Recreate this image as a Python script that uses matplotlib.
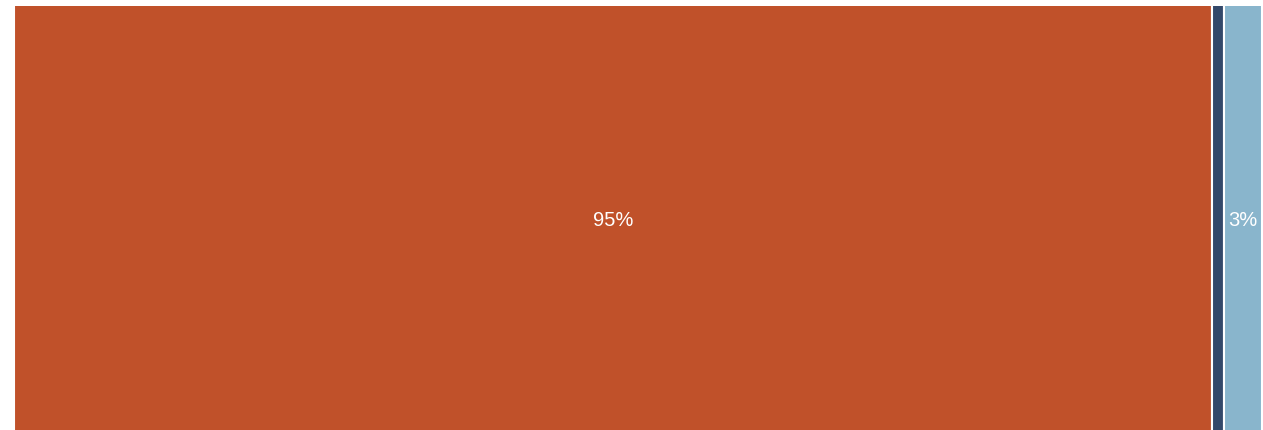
import matplotlib.pyplot as plt

plt.rcParams['font.family'] = ['Liberation Sans', 'DejaVu Sans']

segments = ['A', 'B', 'C']
values = [95, 1, 3]
labels = ['95%', '', '3%']
colors = ['#C0512A', '#34496A', '#89B5CC']

fig = plt.figure(figsize=(12.63, 4.31), dpi=100)
ax = fig.add_axes([14 / 1263, -4 / 431, 1248 / 1263, 428 / 431])

left = 0
for name, val, lab, col in zip(segments, values, labels, colors):
    # bar taller than the axes so top/bottom white edges get clipped
    ax.barh(0, val, left=left, height=1.2, color=col, edgecolor='white', linewidth=1.5)
    if lab:
        ax.text(left + val / 2, 0, lab, ha='center', va='center', color='white', fontsize=14.5)
    left += val

ax.set_xlim(0, sum(values))
ax.set_ylim(-0.5, 0.5)
ax.axis('off')

fig.savefig('out.png', dpi=100)
